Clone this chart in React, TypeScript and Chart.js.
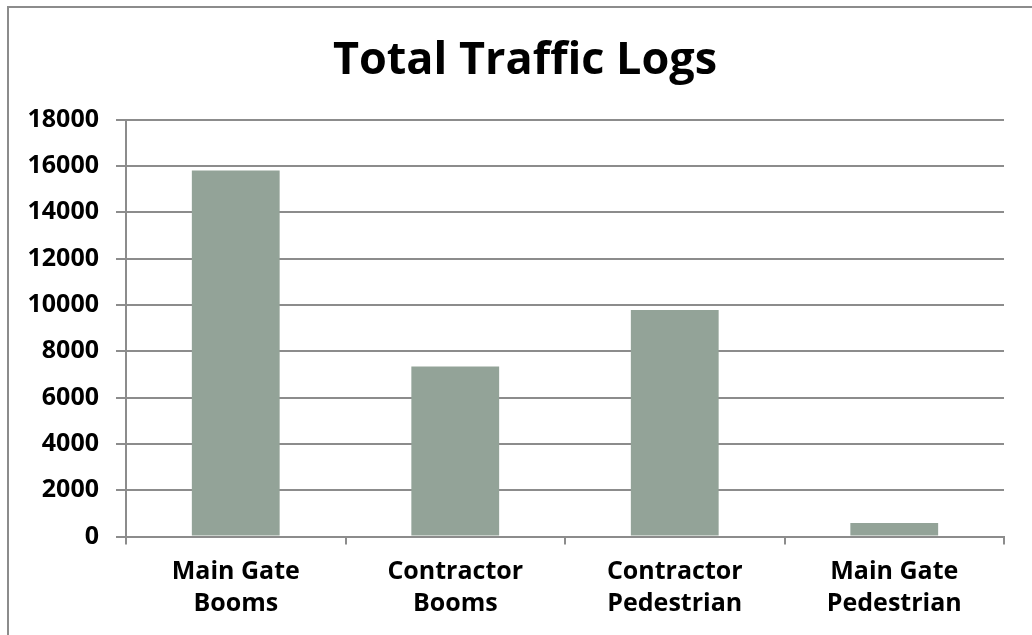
import React, { useEffect, useRef } from "react";
import { Chart, registerables } from "chart.js";

Chart.register(...registerables);

const chartTitle = "Total Traffic Logs";
const categories: string[][] = [
  ["Main Gate", "Booms"],
  ["Contractor", "Booms"],
  ["Contractor", "Pedestrian"],
  ["Main Gate", "Pedestrian"],
];
const trafficValues: number[] = [15800, 7340, 9780, 580];
const yMin = 0;
const yMax = 18000;
const yStep = 2000;

const FONT = '"Open Sans", "DejaVu Sans", sans-serif';
const GRID = "#8c8c8c";

const titlePlugin = {
  id: "customTitle",
  afterDraw(chart: any) {
    const ctx = chart.ctx;
    ctx.save();
    ctx.font = `bold 45px ${FONT}`;
    ctx.fillStyle = "#000";
    ctx.textAlign = "center";
    ctx.textBaseline = "alphabetic";
    ctx.fillText(chartTitle, 525, 74);
    ctx.restore();
  },
};

export default function App() {
  const ref = useRef<HTMLCanvasElement | null>(null);
  useEffect(() => {
    if (!ref.current) return;
    const chart = new Chart(ref.current, {
      type: "bar",
      data: {
        labels: categories,
        datasets: [
          {
            data: trafficValues,
            backgroundColor: "#93a398",
            borderWidth: 0,
            barPercentage: 0.4,
            categoryPercentage: 1,
          },
        ],
      },
      options: {
        responsive: false,
        animation: false,
        devicePixelRatio: 1,
        layout: { padding: { top: 119.5, left: 0, right: 46, bottom: 0 } },
        plugins: { legend: { display: false }, title: { display: false }, tooltip: { enabled: false } },
        scales: {
          x: {
            offset: true,
            grid: { drawOnChartArea: false, drawTicks: true, tickLength: 8, color: GRID, lineWidth: 2, offset: true },
            border: { display: true, color: GRID, width: 2 },
            ticks: {
              color: "#000",
              padding: 11,
              maxRotation: 0,
              autoSkip: false,
              font: { family: FONT, size: 25, weight: "bold", lineHeight: 1.28 },
            },
            afterFit(scale: any) {
              scale.height = 98.5;
            },
          },
          y: {
            min: yMin,
            max: yMax,
            grid: { color: GRID, lineWidth: 2, tickLength: 10 },
            border: { display: true, color: GRID, width: 2 },
            ticks: {
              stepSize: yStep,
              color: "#000",
              padding: 17,
              font: { family: FONT, size: 25, weight: "bold" },
              callback: (v: any) => String(v),
            },
            afterFit(scale: any) {
              scale.width = 126;
            },
          },
        },
      },
      plugins: [titlePlugin],
    });
    return () => chart.destroy();
  }, []);

  return (
    <div style={{ position: "fixed", left: 0, top: 0, width: 1032, height: 635, overflow: "hidden", background: "#fff" }}>
      <div
        style={{
          position: "absolute",
          left: 7,
          top: 6,
          width: 1100,
          height: 700,
          border: `2px solid ${GRID}`,
          boxSizing: "border-box",
        }}
      />
      <canvas ref={ref} width={1050} height={635} style={{ position: "absolute", left: 0, top: 0 }} />
    </div>
  );
}
